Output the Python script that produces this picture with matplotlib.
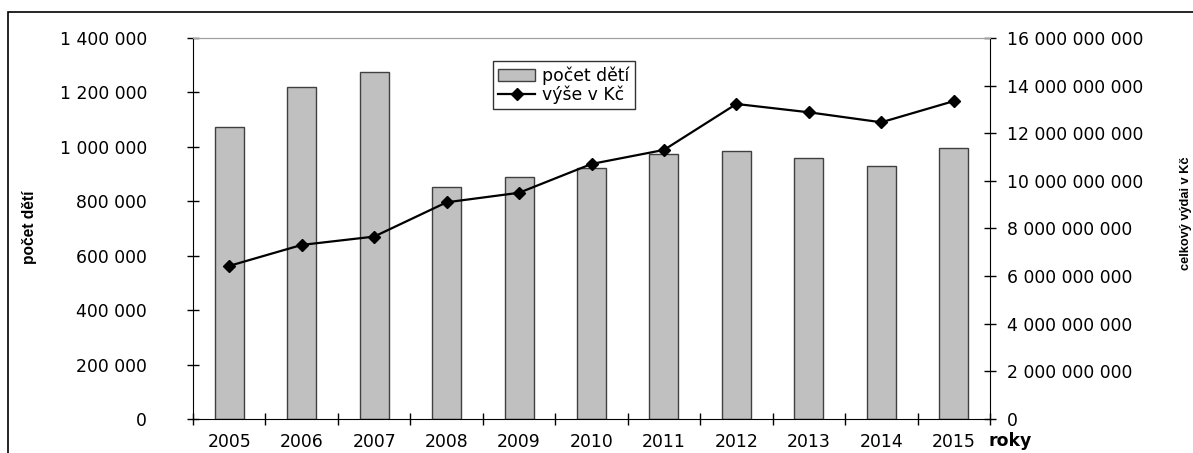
import matplotlib
import matplotlib.pyplot as plt
from matplotlib.patches import Rectangle
from matplotlib.ticker import FixedLocator, FuncFormatter
from matplotlib.lines import Line2D

matplotlib.use("Agg")

# the reference is a horizontally stretched Arial; DejaVu Sans has close metrics
plt.rcParams["font.family"] = ["DejaVu Sans"]

years = ["2005", "2006", "2007", "2008", "2009", "2010",
         "2011", "2012", "2013", "2014", "2015"]
children = [1073000, 1221000, 1275000, 853000, 888000, 921000,
            973000, 984000, 960000, 930000, 995000]
spending = [6.43e9, 7.31e9, 7.66e9, 9.10e9, 9.50e9, 10.71e9,
            11.30e9, 13.23e9, 12.88e9, 12.46e9, 13.35e9]

W, H = 1193, 453
FS = 12.4


def space_fmt(v, pos):
    return f"{v:,.0f}".replace(",", " ")


fig = plt.figure(figsize=(W / 100, H / 100), dpi=100)
ax = fig.add_axes([193 / W, 1 - 419 / H, (990 - 193) / W, (419 - 38) / H])
ax2 = ax.twinx()

x = list(range(len(years)))
ax.bar(x, children, width=0.4, color="#c0c0c0", edgecolor="#404040",
       linewidth=1.0, zorder=2)
ax2.plot(x, spending, color="black", linewidth=1.6, marker="D",
         markersize=6.5, zorder=3)

ax.set_xlim(-0.5, len(years) - 0.5)
ax.set_ylim(0, 1400000)
ax2.set_ylim(0, 16e9)
ax.yaxis.set_major_locator(FixedLocator(range(0, 1400001, 200000)))
ax2.yaxis.set_major_locator(FixedLocator([i * 2e9 for i in range(9)]))
ax.yaxis.set_major_formatter(FuncFormatter(space_fmt))
ax2.yaxis.set_major_formatter(FuncFormatter(space_fmt))

ax.set_xticks(x)
ax.set_xticklabels(years)
ax.set_xticks([i - 0.5 for i in range(len(years) + 1)], minor=True)
ax.tick_params(axis="x", which="major", length=0, pad=10, labelsize=FS)
ax.tick_params(axis="x", which="minor", direction="inout", length=8, width=1)
ax.tick_params(axis="y", direction="inout", length=8, width=1, pad=29,
               labelsize=FS)
ax2.tick_params(axis="y", direction="inout", length=8, width=1, pad=8,
                labelsize=FS)

for s in ["left", "bottom"]:
    ax.spines[s].set_color("black")
ax.spines["right"].set_visible(False)
ax.spines["top"].set_color("#a0a0a0")
for s in ["left", "bottom"]:
    ax2.spines[s].set_visible(False)
ax2.spines["top"].set_color("#a0a0a0")
ax2.spines["right"].set_color("black")

fig.text(30 / W, 1 - 227 / H, "počet dětí", rotation=90, ha="center",
         va="center", fontsize=11.2, fontweight="bold",
         family="Liberation Sans")
fig.text(1186 / W, 1 - 213 / H, "celkový výdai v Kč", rotation=90,
         ha="center", va="center", fontsize=9.2, fontweight="bold",
         family="Liberation Sans")
fig.text(988 / W, 1 - 441 / H, "roky", ha="left", va="center",
         fontsize=FS, fontweight="bold")

handles = [Rectangle((0, 0), 1, 1, facecolor="#c0c0c0", edgecolor="#404040"),
           Line2D([], [], color="black", linewidth=1.6, marker="D",
                  markersize=6.5)]
leg = fig.legend(handles, ["počet dětí", "výše v Kč"], loc="upper left",
                 bbox_to_anchor=(493 / W, 1 - 61 / H), fontsize=FS,
                 frameon=True, fancybox=False, borderpad=0.3,
                 handlelength=2.15, handletextpad=0.4, labelspacing=0.05,
                 borderaxespad=0)
leg.get_frame().set_edgecolor("black")
leg.get_frame().set_linewidth(1.0)

# outer chart frame
fig.patches.append(Rectangle((8 / W, -0.1), 1.2, 1 - 12 / H + 0.1,
                             transform=fig.transFigure, fill=False,
                             edgecolor="black", linewidth=1.2))

fig.savefig("out.png", dpi=100)
